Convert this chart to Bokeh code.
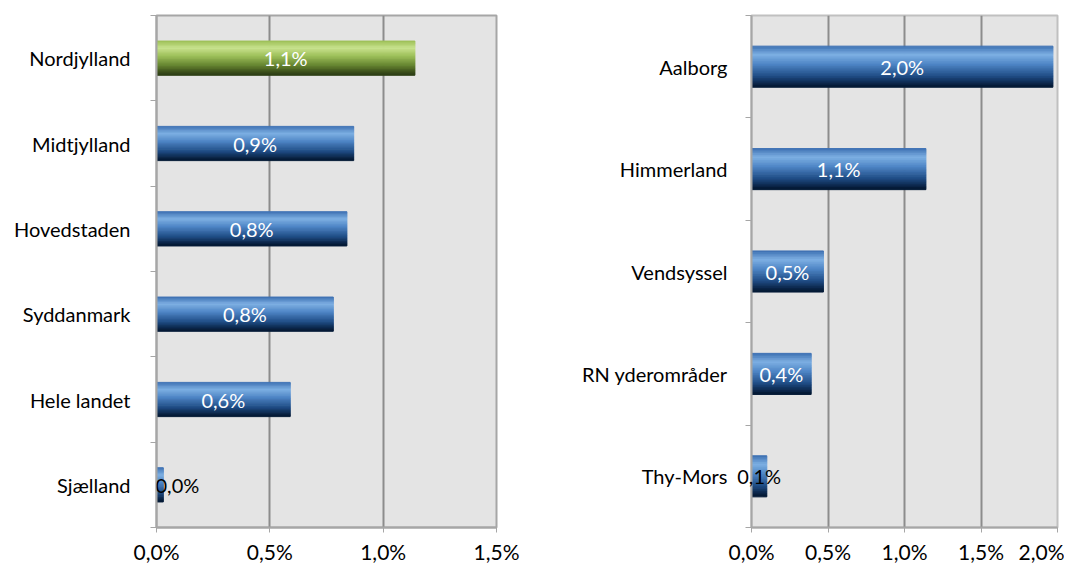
from bokeh.plotting import figure
from bokeh.models import ColumnDataSource, Label, FixedTicker
from bokeh.layouts import row
from bokeh.embed import file_html
from bokeh.resources import INLINE

# ---- data ----
left_cats = ["Nordjylland", "Midtjylland", "Hovedstaden", "Syddanmark", "Hele landet", "Sjælland"]
left_vals = [1.14, 0.87, 0.84, 0.78, 0.59, 0.03]
left_labels = ["1,1%", "0,9%", "0,8%", "0,8%", "0,6%", "0,0%"]
left_highlight = ["Nordjylland"]

right_cats = ["Aalborg", "Himmerland", "Vendsyssel", "RN yderområder", "Thy-Mors"]
right_vals = [1.97, 1.14, 0.47, 0.39, 0.10]
right_labels = ["2,0%", "1,1%", "0,5%", "0,4%", "0,1%"]

left_ticks = [0.0, 0.5, 1.0, 1.5]
left_tick_labels = ["0,0%", "0,5%", "1,0%", "1,5%"]
right_ticks = [0.0, 0.5, 1.0, 1.5, 2.0]
right_tick_labels = ["0,0%", "0,5%", "1,0%", "1,5%", "2,0%"]

FONT = "Lato"
BLUE_STOPS = [(0.0, "#3a6db0"), (0.22, "#7eb0e3"), (0.45, "#4f86c6"), (0.75, "#1f4c84"), (1.0, "#031630")]
GREEN_STOPS = [(0.0, "#9bbd55"), (0.22, "#c8e28e"), (0.45, "#9ec05a"), (0.75, "#617f2e"), (1.0, "#2a3a14")]


def interp(stops, t):
    for (t0, c0), (t1, c1) in zip(stops[:-1], stops[1:]):
        if t0 <= t <= t1:
            f = (t - t0) / (t1 - t0) if t1 > t0 else 0
            a = [int(c0[i:i + 2], 16) for i in (1, 3, 5)]
            b = [int(c1[i:i + 2], 16) for i in (1, 3, 5)]
            return "#%02x%02x%02x" % tuple(round(a[j] + (b[j] - a[j]) * f) for j in range(3))
    return stops[-1][1]


def make_chart(cats, vals, labels, ticks, tick_labels, xmax, width, border_left, border_right,
               standoff, highlight=(), outline="#a6a6a6"):
    n = len(cats)
    ys = [n - 1 - i for i in range(n)]
    p = figure(width=width, height=566, output_backend="svg", toolbar_location=None,
               x_range=(0, xmax), y_range=(-0.5, n - 0.5),
               min_border_left=border_left, min_border_right=border_right,
               min_border_top=15, min_border_bottom=33)
    p.background_fill_color = "#e4e4e4"
    p.border_fill_color = "white"
    p.outline_line_color = outline
    p.outline_line_width = 2

    # gradient bars as thin strips
    bar_h = 0.4
    N = 24
    sh = bar_h / N
    for k in range(N):
        t = (k + 0.5) / N
        cols = [interp(GREEN_STOPS if c in highlight else BLUE_STOPS, t) for c in cats]
        src = ColumnDataSource(dict(y=[y + bar_h / 2 - (k + 0.5) * sh for y in ys], right=vals, color=cols))
        p.hbar(y="y", left=0, right="right", height=sh * 1.08, color="color", source=src)

    # data labels
    for v, y, lab in zip(vals, ys, labels):
        if v >= 0.3:
            p.add_layout(Label(x=v / 2, y=y, text=lab, text_color="white",
                               text_align="center", text_baseline="middle",
                               text_font=FONT, text_font_size="20px"))
        elif v >= 0.05:
            # label wider than its bar: let it spill over the frame edge
            p.add_layout(Label(x=v / 2, y=y, text=lab, text_color="black",
                               text_align="center", text_baseline="middle",
                               text_font=FONT, text_font_size="20px"), "left")
        else:
            p.add_layout(Label(x=0, y=y, text=lab, text_color="black", x_offset=-1,
                               text_align="left", text_baseline="middle",
                               text_font=FONT, text_font_size="20px"))

    # x axis
    p.xaxis.ticker = FixedTicker(ticks=ticks)
    p.xaxis.major_label_overrides = {t: l for t, l in zip(ticks, tick_labels)}
    p.xaxis.axis_line_color = "#a6a6a6"
    p.xaxis.axis_line_width = 2
    p.xaxis.major_tick_line_color = "#a6a6a6"
    p.xaxis.major_tick_out = 5
    p.xaxis.major_tick_in = 0
    p.xaxis.minor_tick_line_color = None
    p.xaxis.major_label_text_font = FONT
    p.xaxis.major_label_text_font_size = "21px"
    p.xaxis.major_label_text_color = "black"
    p.xaxis.major_label_standoff = 6

    # y axis: labels at centres, ticks at boundaries
    p.yaxis.ticker = FixedTicker(ticks=ys, minor_ticks=[i - 0.5 for i in range(n + 1)])
    p.yaxis.major_label_overrides = {y: c for y, c in zip(ys, cats)}
    p.yaxis.axis_line_color = "#a6a6a6"
    p.yaxis.axis_line_width = 2
    p.yaxis.major_tick_line_color = None
    p.yaxis.minor_tick_line_color = "#a6a6a6"
    p.yaxis.minor_tick_out = 6
    p.yaxis.minor_tick_in = 0
    p.yaxis.major_label_text_font = FONT
    p.yaxis.major_label_text_font_size = "20px"
    p.yaxis.major_label_text_color = "black"
    p.yaxis.major_label_standoff = standoff

    p.xgrid.ticker = FixedTicker(ticks=ticks)
    p.xgrid.grid_line_color = "#8c8c8c"
    p.xgrid.grid_line_width = 2
    p.ygrid.grid_line_color = None
    return p


p1 = make_chart(left_cats, left_vals, left_labels, left_ticks, left_tick_labels, 1.5,
                535, 156, 39, 20, highlight=left_highlight)
p2 = make_chart(right_cats, right_vals, right_labels, right_ticks, right_tick_labels, 2.0,
                529, 183, 7, 18, outline="#c0c0c0")

layout = row(p1, p2, spacing=0)
open("out.html", "w").write(file_html(layout, INLINE))
